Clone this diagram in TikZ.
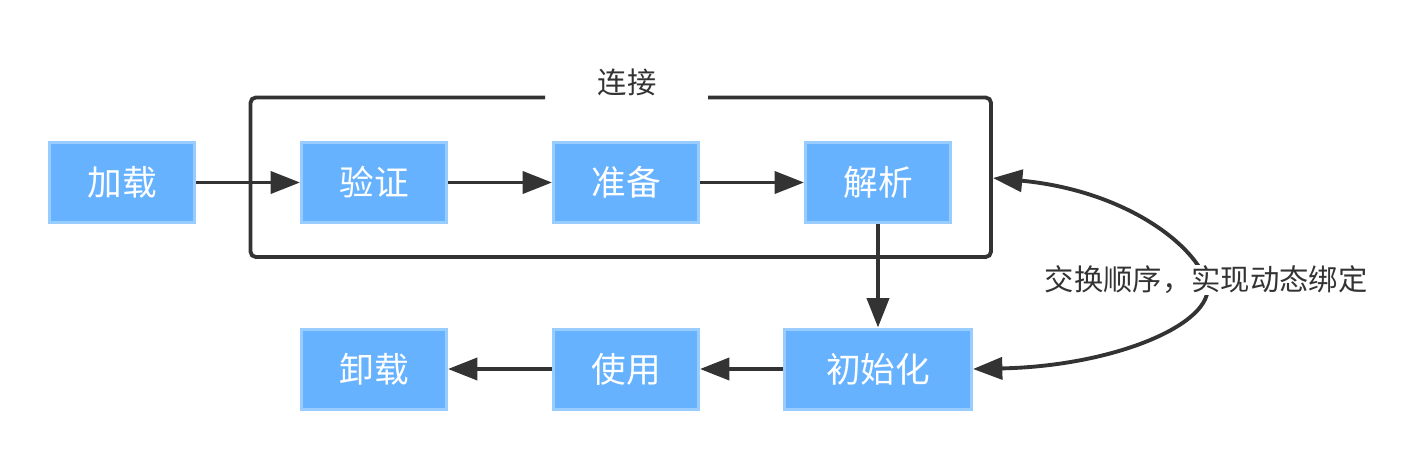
\documentclass[tikz,border=0pt]{standalone}
\usepackage{fontspec}
\setmainfont{Noto Sans CJK SC}
\usetikzlibrary{arrows.meta}
\definecolor{boxfill}{HTML}{66B2FF}
\definecolor{boxedge}{HTML}{99CCFF}
\definecolor{ink}{HTML}{333333}
\tikzset{
  stagebox/.style={draw=boxedge, fill=boxfill, line width=2.25pt, inner sep=0pt,
    minimum width=108.75pt, minimum height=60pt, text=white,
    font=\fontsize{26}{30}\selectfont},
  tip/.tip={Triangle[length=22pt,width=16.5pt]},
  flow/.style={draw=ink, line width=2.9pt, -tip},
  frame/.style={draw=ink, line width=2.9pt, rounded corners=4pt},
  lbl/.style={text=ink, font=\fontsize{22}{26}\selectfont, inner sep=1pt}
}
\begin{document}
\begin{tikzpicture}[x=0.75pt,y=-0.75pt]
\useasboundingbox (0,0) rectangle (1418,460);
% top row
\node[stagebox] (jz) at (122,182.5) {加载};
\node[stagebox] (yz) at (374,182.5) {验证};
\node[stagebox] (zb) at (626,182.5) {准备};
\node[stagebox] (jx) at (878,182.5) {解析};
% bottom row
\node[stagebox] (xz) at (374,369) {卸载};
\node[stagebox] (sy) at (626,369) {使用};
\node[stagebox, minimum width=140.25pt] (csh) at (878,369) {初始化};
% group frame
\coordinate (fa) at (545,97.5);
\coordinate (fb) at (708,97.5);
\draw[frame] (fa) -- (250.5,97.5) -- (250.5,257) -- (991,257) -- (991,97.5) -- (fb);
\node[lbl] (lj) at (627,82) {连接};
\coordinate (gr) at (993,178);
% connectors
\draw[flow] (jz.east) -- (yz.west);
\draw[flow] (yz.east) -- (zb.west);
\draw[flow] (zb.east) -- (jx.west);
\draw[flow] (jx.south) -- (csh.north);
\draw[flow] (csh.west) -- (sy.east);
\draw[flow] (sy.west) -- (xz.east);
\coordinate (mid) at (1206,280);
\draw[flow, tip-tip]
  (gr) .. controls (1120,190) and (1190,240) .. (mid)
       .. controls (1222,320) and (1120,366) .. (csh.east);
\node[lbl, fill=white] (sw) at (mid) {交换顺序，实现动态绑定};
\end{tikzpicture}
\end{document}
